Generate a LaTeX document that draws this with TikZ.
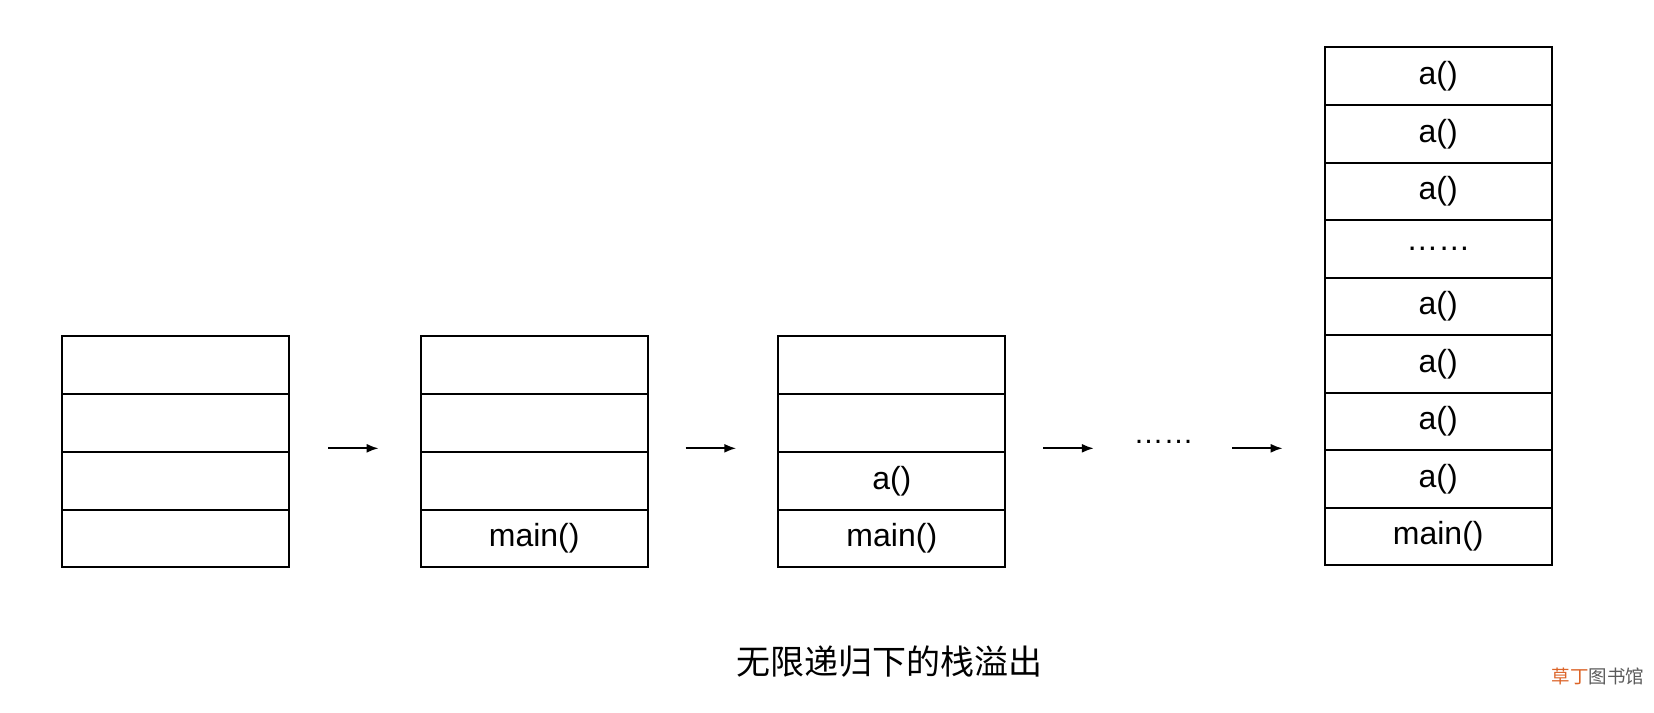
\documentclass[tikz,border=0pt]{standalone}
\usepackage{fontspec}
\setmainfont{Liberation Sans}
\newfontfamily\cjk{Noto Sans CJK SC}
\usetikzlibrary{arrows.meta}
\begin{document}
\begin{tikzpicture}[x=1.0548pt,y=-1.0548pt,
  cell/.style={draw,line width=2pt,minimum width=226.8pt,inner sep=0pt,font=\fontsize{32}{34}\selectfont},
  arr/.style={-{Latex[length=12pt,width=9pt]},line width=2pt}]
% stack 1
\foreach \i in {0,...,3}{%
  \node[cell,minimum height=57.75pt,anchor=north west] (s1r\i) at (58,318+54.75*\i) {};%
}
% stack 2
\foreach \i/\t in {0/,1/,2/,3/main()}{%
  \node[cell,minimum height=57.75pt,anchor=north west] (s2r\i) at (398,318+54.75*\i) {\t};%
}
% stack 3
\foreach \i/\t in {0/,1/,2/a(),3/main()}{%
  \node[cell,minimum height=57.75pt,anchor=north west] (s3r\i) at (737,318+54.75*\i) {\t};%
}
% stack 4
\foreach \i/\t in {0/a(),1/a(),2/a(),3/\dots\dots,4/a(),5/a(),6/a(),7/a(),8/main()}{%
  \node[cell,minimum height=57.54pt,anchor=north west] (s4r\i) at (1255,44+54.55*\i) {\t};%
}
\coordinate (a1s) at (311,425); \coordinate (a1e) at (359,425);
\coordinate (a2s) at (650,425); \coordinate (a2e) at (698,425);
\coordinate (a3s) at (989,425); \coordinate (a3e) at (1037,425);
\coordinate (a4s) at (1168,425); \coordinate (a4e) at (1216,425);
\draw[arr] (a1s) -- (a1e);
\draw[arr] (a2s) -- (a2e);
\draw[arr] (a3s) -- (a3e);
\draw[arr] (a4s) -- (a4e);
\node[font=\fontsize{30}{32}\selectfont] (dots) at (1103,419) {\dots\dots};
\node[font=\cjk\fontsize{34}{36}\selectfont] (cap) at (843,627) {无限递归下的栈溢出};
\node[font=\cjk\fontsize{18.5}{20}\selectfont] (wm) at (1515,641) {\textcolor[RGB]{220,100,40}{草丁}\textcolor[RGB]{90,90,90}{图书馆}};
\pgfresetboundingbox
\useasboundingbox (0,0) rectangle (1568,675);
\end{tikzpicture}
\end{document}
